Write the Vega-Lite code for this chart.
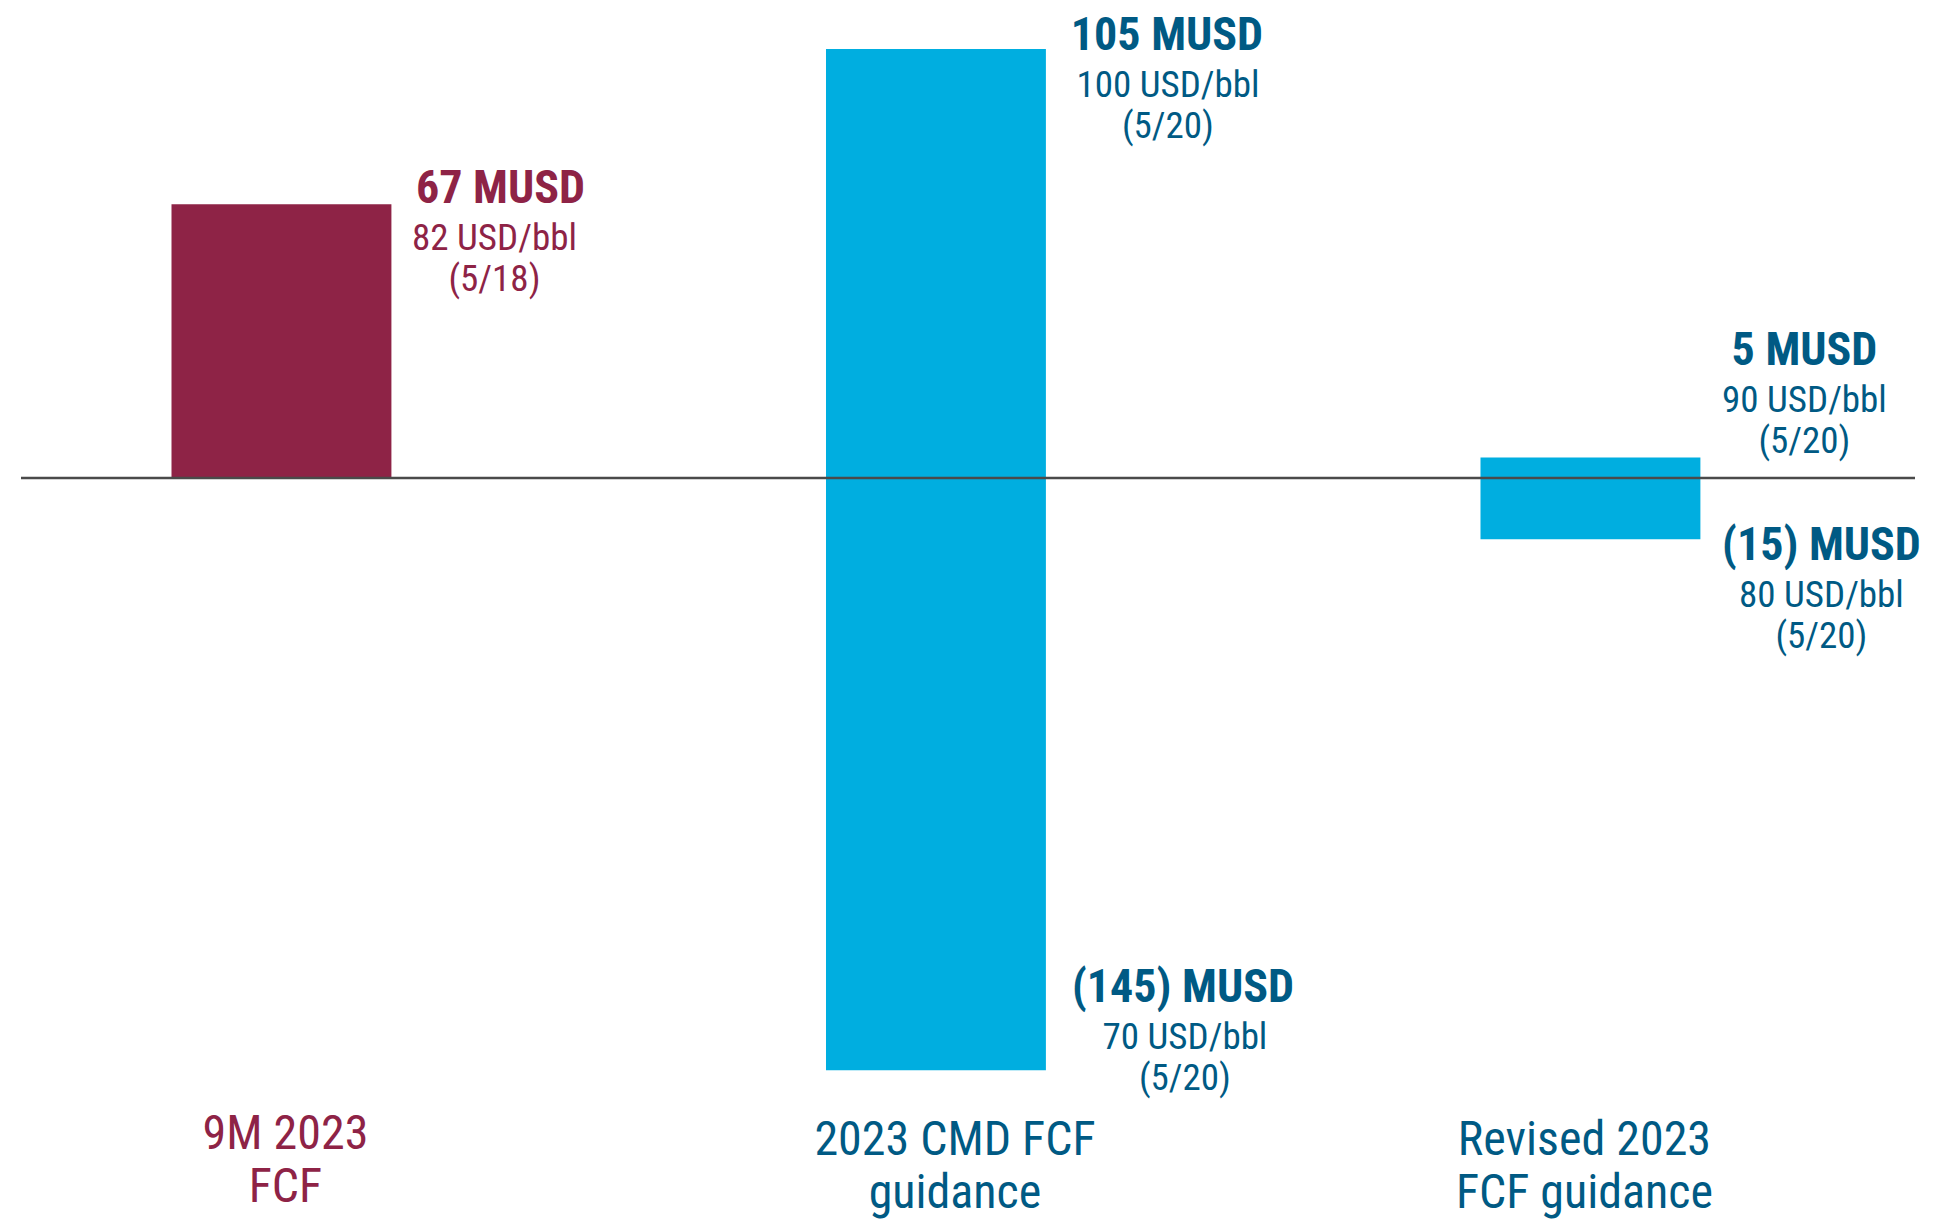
{
  "$schema": "https://vega.github.io/schema/vega-lite/v6.json",
  "width": 1894,
  "height": 1221,
  "padding": {"left": 21, "right": 18, "top": 0, "bottom": 0},
  "autosize": {"type": "none"},
  "background": "white",
  "config": {
    "view": {"stroke": null},
    "text": {"font": "Roboto Condensed, DejaVu Sans Condensed, sans-serif"},
    "axis": {"labelFont": "Roboto Condensed, DejaVu Sans Condensed, sans-serif"}
  },
  "datasets": {
    "bars": [
      {"category": "9M 2023|FCF", "low": 0, "high": 67, "kind": "actual"},
      {"category": "2023 CMD FCF|guidance", "low": -145, "high": 105, "kind": "guidance"},
      {"category": "Revised 2023|FCF guidance", "low": -15, "high": 5, "kind": "guidance"}
    ],
    "labels": [
      {"id": "L1", "category": "9M 2023|FCF", "value": 67, "main": "67 MUSD", "sub": "82 USD/bbl|(5/18)", "kind": "actual"},
      {"id": "L2", "category": "2023 CMD FCF|guidance", "value": 105, "main": "105 MUSD", "sub": "100 USD/bbl|(5/20)", "kind": "guidance"},
      {"id": "L3", "category": "2023 CMD FCF|guidance", "value": -145, "main": "(145) MUSD", "sub": "70 USD/bbl|(5/20)", "kind": "guidance"},
      {"id": "L4", "category": "Revised 2023|FCF guidance", "value": 5, "main": "5 MUSD", "sub": "90 USD/bbl|(5/20)", "kind": "guidance"},
      {"id": "L5", "category": "Revised 2023|FCF guidance", "value": -15, "main": "(15) MUSD", "sub": "80 USD/bbl|(5/20)", "kind": "guidance"}
    ]
  },
  "layer": [
    {
      "data": {"name": "bars"},
      "mark": {"type": "bar"},
      "encoding": {
        "x": {
          "field": "category", "type": "nominal", "sort": null,
          "scale": {"domain": ["9M 2023|FCF", "2023 CMD FCF|guidance", "Revised 2023|FCF guidance"], "range": [150.5, 1679.4], "paddingInner": 0.664, "paddingOuter": 0},
          "axis": {
            "title": null, "domain": false, "ticks": false, "grid": false,
            "labelAngle": 0, "labelLimit": 0,
            "labelPadding": {"condition": {"test": "datum.value === '9M 2023|FCF'", "value": -111}, "value": -105},
            "labelOffset": {"condition": [{"test": "datum.value === '2023 CMD FCF|guidance'", "value": 19}, {"test": "datum.value === 'Revised 2023|FCF guidance'", "value": -6}], "value": 4},
            "labelFontSize": 48, "labelLineHeight": 53,
            "labelExpr": "split(datum.label, '|')",
            "labelColor": {"condition": {"test": "datum.value === '9M 2023|FCF'", "value": "#8E2346"}, "value": "#005A84"}
          }
        },
        "y": {"field": "low", "type": "quantitative", "scale": {"domain": [-181.9, 117.0], "nice": false, "zero": false}, "axis": null},
        "y2": {"field": "high"},
        "color": {"condition": {"test": "datum.kind === 'actual'", "value": "#8E2346"}, "value": "#00AEE0"}
      }
    },
    {
      "data": {"values": [{}]},
      "mark": {"type": "rule", "color": "#4A4A4A", "strokeWidth": 2.5},
      "encoding": {"y": {"datum": 0, "type": "quantitative", "scale": {"domain": [-181.9, 117.0], "nice": false, "zero": false}, "axis": null}}
    },
    {
      "data": {"name": "labels"},
      "transform": [{"filter": "datum.id === 'L1'"}],
      "encoding": {
        "x": {"field": "category", "type": "nominal", "sort": null},
        "y": {"field": "value", "type": "quantitative", "scale": {"domain": [-181.9, 117.0], "nice": false, "zero": false}, "axis": null},
        "color": {"condition": {"test": "datum.kind === 'actual'", "value": "#8E2346"}, "value": "#005A84"}
      },
      "layer": [
        {"mark": {"type": "text", "fontWeight": "bold", "fontSize": 46, "align": "center", "baseline": "alphabetic", "dx": 219, "dy": -1}, "encoding": {"text": {"field": "main"}}},
        {"mark": {"type": "text", "fontSize": 37, "align": "center", "baseline": "alphabetic", "lineBreak": "|", "lineHeight": 41, "dx": 213, "dy": 46}, "encoding": {"text": {"field": "sub"}}}
      ]
    },
    {
      "data": {"name": "labels"},
      "transform": [{"filter": "datum.id === 'L2'"}],
      "encoding": {
        "x": {"field": "category", "type": "nominal", "sort": null},
        "y": {"field": "value", "type": "quantitative", "scale": {"domain": [-181.9, 117.0], "nice": false, "zero": false}, "axis": null},
        "color": {"condition": {"test": "datum.kind === 'actual'", "value": "#8E2346"}, "value": "#005A84"}
      },
      "layer": [
        {"mark": {"type": "text", "fontWeight": "bold", "fontSize": 46, "align": "center", "baseline": "alphabetic", "dx": 231, "dy": 1}, "encoding": {"text": {"field": "main"}}},
        {"mark": {"type": "text", "fontSize": 37, "align": "center", "baseline": "alphabetic", "lineBreak": "|", "lineHeight": 41, "dx": 232, "dy": 48}, "encoding": {"text": {"field": "sub"}}}
      ]
    },
    {
      "data": {"name": "labels"},
      "transform": [{"filter": "datum.id === 'L3'"}],
      "encoding": {
        "x": {"field": "category", "type": "nominal", "sort": null},
        "y": {"field": "value", "type": "quantitative", "scale": {"domain": [-181.9, 117.0], "nice": false, "zero": false}, "axis": null},
        "color": {"condition": {"test": "datum.kind === 'actual'", "value": "#8E2346"}, "value": "#005A84"}
      },
      "layer": [
        {"mark": {"type": "text", "fontWeight": "bold", "fontSize": 46, "align": "center", "baseline": "alphabetic", "dx": 247, "dy": -68}, "encoding": {"text": {"field": "main"}}},
        {"mark": {"type": "text", "fontSize": 37, "align": "center", "baseline": "alphabetic", "lineBreak": "|", "lineHeight": 41, "dx": 249, "dy": -21}, "encoding": {"text": {"field": "sub"}}}
      ]
    },
    {
      "data": {"name": "labels"},
      "transform": [{"filter": "datum.id === 'L4'"}],
      "encoding": {
        "x": {"field": "category", "type": "nominal", "sort": null},
        "y": {"field": "value", "type": "quantitative", "scale": {"domain": [-181.9, 117.0], "nice": false, "zero": false}, "axis": null},
        "color": {"condition": {"test": "datum.kind === 'actual'", "value": "#8E2346"}, "value": "#005A84"}
      },
      "layer": [
        {"mark": {"type": "text", "fontWeight": "bold", "fontSize": 46, "align": "center", "baseline": "alphabetic", "dx": 214, "dy": -93}, "encoding": {"text": {"field": "main"}}},
        {"mark": {"type": "text", "fontSize": 37, "align": "center", "baseline": "alphabetic", "lineBreak": "|", "lineHeight": 41, "dx": 214, "dy": -46}, "encoding": {"text": {"field": "sub"}}}
      ]
    },
    {
      "data": {"name": "labels"},
      "transform": [{"filter": "datum.id === 'L5'"}],
      "encoding": {
        "x": {"field": "category", "type": "nominal", "sort": null},
        "y": {"field": "value", "type": "quantitative", "scale": {"domain": [-181.9, 117.0], "nice": false, "zero": false}, "axis": null},
        "color": {"condition": {"test": "datum.kind === 'actual'", "value": "#8E2346"}, "value": "#005A84"}
      },
      "layer": [
        {"mark": {"type": "text", "fontWeight": "bold", "fontSize": 46, "align": "center", "baseline": "alphabetic", "dx": 231, "dy": 21}, "encoding": {"text": {"field": "main"}}},
        {"mark": {"type": "text", "fontSize": 37, "align": "center", "baseline": "alphabetic", "lineBreak": "|", "lineHeight": 41, "dx": 231, "dy": 68}, "encoding": {"text": {"field": "sub"}}}
      ]
    }
  ]
}
